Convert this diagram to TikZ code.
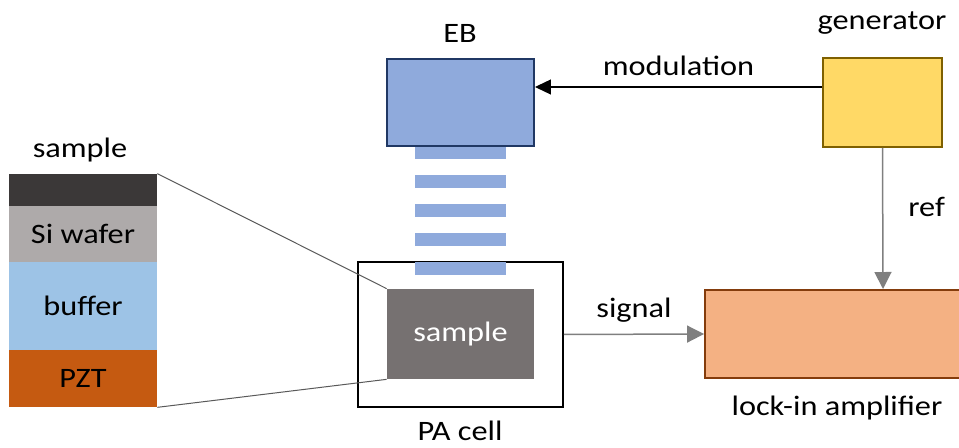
\documentclass[tikz,border=0pt]{standalone}
\usepackage{fontspec}
\setmainfont{Carlito}[FakeStretch=1.15]
\usetikzlibrary{arrows.meta}
\definecolor{ebblue}{HTML}{8FAADC}
\definecolor{ebborder}{HTML}{203864}
\definecolor{genyellow}{HTML}{FFD966}
\definecolor{genborder}{HTML}{7F6000}
\definecolor{lockorange}{HTML}{F4B183}
\definecolor{lockborder}{HTML}{843C0C}
\definecolor{samplegray}{HTML}{767171}
\definecolor{layerdark}{HTML}{3B3838}
\definecolor{wafergray}{HTML}{AEAAAA}
\definecolor{bufferblue}{HTML}{9DC3E6}
\definecolor{pztorange}{HTML}{C55A11}
\definecolor{linegray}{HTML}{7F7F7F}
\definecolor{zoomgray}{HTML}{595959}
\tikzset{
  box/.style={rectangle, line width=0.04cm, inner sep=0pt},
  layer/.style={rectangle, inner sep=0pt, minimum width=2.96cm},
  graylink/.style={-{Triangle[length=0.34cm,width=0.34cm]}, draw=linegray, fill=linegray, line width=0.03cm},
  blacklink/.style={-{Triangle[length=0.32cm,width=0.3cm]}, draw=black, line width=0.025cm},
}
\begin{document}
\begin{tikzpicture}[x=0.02cm,y=-0.02cm,font=\fontsize{16}{19}\selectfont]
        \useasboundingbox (0,0) rectangle (959,448);

        % layer stack
        \draw (83,190) node (lsample) [layer,fill=layerdark,minimum height=0.64cm] {};
        \draw (83,234) node (lwafer) [layer,fill=wafergray,minimum height=1.12cm] {Si wafer};
        \draw (83,306) node (lbuffer) [layer,fill=bufferblue,minimum height=1.76cm] {buffer};
        \draw (83,378.5) node (lpzt) [layer,fill=pztorange,minimum height=1.14cm] {PZT};
        \draw (80,150) node (lsamplelabel) {sample};

        % PA cell and beam
        \draw (460.5,334.5) node (pacell) [box,draw=black,minimum width=4.1cm,minimum height=2.9cm] {};
        \draw (460.5,334) node (sample) [rectangle,fill=samplegray,text=white,minimum width=2.94cm,minimum height=1.8cm,inner sep=0pt] {sample};
        \foreach \i in {0,...,4}
            \fill [ebblue] (415,146+29*\i) rectangle (506,159+29*\i);
        \draw (460.5,102.5) node (eb) [box,fill=ebblue,draw=ebborder,minimum width=2.94cm,minimum height=1.74cm] {};
        \draw (460,33) node (eblabel) {EB};
        \draw (460,431) node (pacelllabel) {PA cell};

        % generator and lock-in
        \draw (882.5,102.5) node (gen) [box,fill=genyellow,draw=genborder,minimum width=2.38cm,minimum height=1.78cm] {};
        \draw (882,23) node (genlabel) {generator};
        \draw (883,334) node (lockin) [box,fill=lockorange,draw=lockborder,minimum width=7.12cm,minimum height=1.76cm] {};
        \draw (837,408) node (lockinlabel) {lock-in amplifier};

        % zoom lines
        \draw [zoomgray,line width=0.02cm] (lsample.north east) -- (sample.north west);
        \draw [zoomgray,line width=0.02cm] (lpzt.south east) -- (sample.south west);

        \draw [blacklink] ([yshift=0.31cm]gen.west) to node [above=0.1cm] {modulation} ([yshift=0.31cm]eb.east);
        \draw [graylink] (gen.south) to node [right=0.38cm,pos=0.42,text=black] {ref} (lockin.north);
        \draw [graylink] (pacell.east) to node [above=0.1cm,text=black] {signal} (lockin.west);

    \end{tikzpicture}
\end{document}
